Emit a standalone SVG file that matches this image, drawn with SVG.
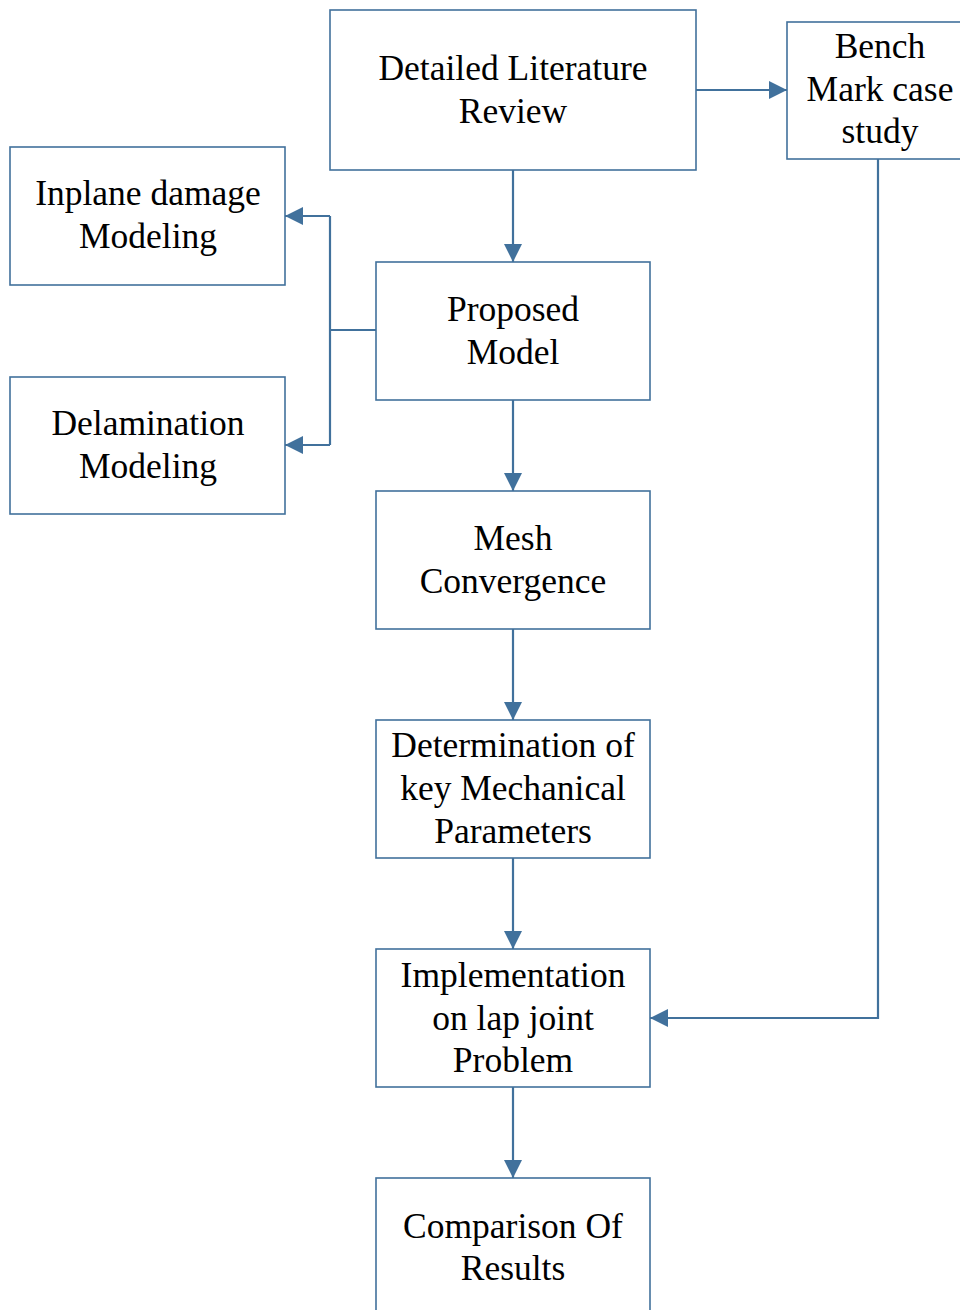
<svg xmlns="http://www.w3.org/2000/svg" width="960" height="1310" viewBox="0 0 960 1310">
<style>
.box{fill:#fff;stroke:#41719C;stroke-width:1.6}
.t{font-family:"Liberation Serif","Times New Roman",serif;font-size:35.5px;fill:#000;text-anchor:middle}
.c{fill:none;stroke:#41719C;stroke-width:2.2}
</style>
<defs>
<marker id="ah" markerUnits="userSpaceOnUse" markerWidth="18" markerHeight="18" refX="18" refY="9" orient="auto" viewBox="0 0 18 18">
<path d="M0,0 L18,9 L0,18 z" fill="#41719C"/>
</marker>
</defs>
<rect width="960" height="1310" fill="#fff"/>
<g id="connectors">
<path class="c" d="M513,170 V262" marker-end="url(#ah)"/>
<path class="c" d="M696,90 H787" marker-end="url(#ah)"/>
<path class="c" d="M878,159 V1018 H650" marker-end="url(#ah)"/>
<path class="c" d="M376,330 H330"/>
<path class="c" d="M330,216 V445"/>
<path class="c" d="M330,216 H285" marker-end="url(#ah)"/>
<path class="c" d="M330,445 H285" marker-end="url(#ah)"/>
<path class="c" d="M513,400 V491" marker-end="url(#ah)"/>
<path class="c" d="M513,629 V720" marker-end="url(#ah)"/>
<path class="c" d="M513,858 V949" marker-end="url(#ah)"/>
<path class="c" d="M513,1087 V1178" marker-end="url(#ah)"/>
</g>
<g id="literature">
<rect class="box" x="330" y="10" width="366" height="160"/>
<text class="t" x="513" y="80">Detailed Literature</text>
<text class="t" x="513" y="123">Review</text>
</g>
<g id="benchmark">
<rect class="box" x="787" y="22" width="190" height="137"/>
<text class="t" x="880" y="58">Bench</text>
<text class="t" x="880" y="101">Mark case</text>
<text class="t" x="880" y="143">study</text>
</g>
<g id="inplane">
<rect class="box" x="10" y="147" width="275" height="138"/>
<text class="t" x="148" y="205">Inplane damage</text>
<text class="t" x="148" y="248">Modeling</text>
</g>
<g id="delamination">
<rect class="box" x="10" y="377" width="275" height="137"/>
<text class="t" x="148" y="435">Delamination</text>
<text class="t" x="148" y="478">Modeling</text>
</g>
<g id="proposed">
<rect class="box" x="376" y="262" width="274" height="138"/>
<text class="t" x="513" y="321">Proposed</text>
<text class="t" x="513" y="364">Model</text>
</g>
<g id="mesh">
<rect class="box" x="376" y="491" width="274" height="138"/>
<text class="t" x="513" y="550">Mesh</text>
<text class="t" x="513" y="593">Convergence</text>
</g>
<g id="determination">
<rect class="box" x="376" y="720" width="274" height="138"/>
<text class="t" x="513" y="757">Determination of</text>
<text class="t" x="513" y="800">key Mechanical</text>
<text class="t" x="513" y="843">Parameters</text>
</g>
<g id="implementation">
<rect class="box" x="376" y="949" width="274" height="138"/>
<text class="t" x="513" y="987">Implementation</text>
<text class="t" x="513" y="1030">on lap joint</text>
<text class="t" x="513" y="1072">Problem</text>
</g>
<g id="comparison">
<rect class="box" x="376" y="1178" width="274" height="145"/>
<text class="t" x="513" y="1238">Comparison Of</text>
<text class="t" x="513" y="1280">Results</text>
</g>
</svg>
